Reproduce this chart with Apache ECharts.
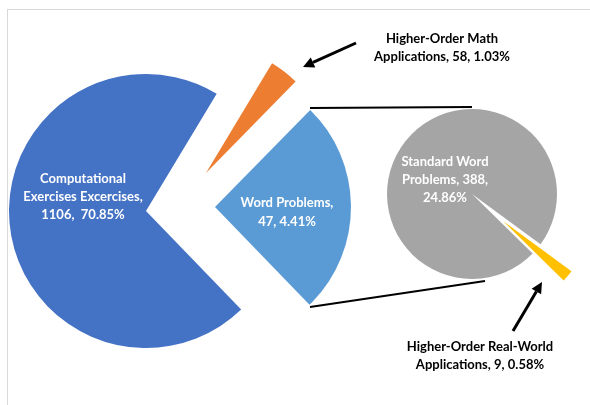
<!DOCTYPE html>
<html>
<head>
<meta charset="utf-8">
<script src="https://cdn.jsdelivr.net/npm/echarts@6/dist/echarts.min.js"></script>
<style>
  html, body { margin: 0; padding: 0; background: #fff; }
  #chart { width: 590px; height: 405px; }
</style>
</head>
<body>
<div id="chart"></div>
<script>
// main pie
const mainNames = ["Computational Exercises Excercises", "Higher-Order Math Applications", "Word Problems"];
const mainValues = [1106, 58, 397];
const mainLabels = ["Computational\nExercises Excercises,\n1106,  70.85%", "Higher-Order Math\nApplications, 58, 1.03%", "Word Problems,\n47, 4.41%"];
const mainColors = ["#4472c4", "#ed7d31", "#5b9bd5"];

// secondary pie (breakdown of word problems)
const subNames = ["Standard Word Problems", "Higher-Order Real-World Applications"];
const subValues = [388, 9];
const subLabels = ["Standard Word\nProblems, 388,\n24.86%", "Higher-Order Real-World\nApplications, 9, 0.58%"];
const subColors = ["#a5a5a5", "#ffc000"];

const FONT = "Lato, 'Open Sans', sans-serif";

// one visible slice per series so each slice can be pulled out on its own
function slicePie(names, values, colors, idx, center, radius, startAngle) {
  return {
    type: "pie",
    center: center,
    radius: radius,
    startAngle: startAngle,
    clockwise: true,
    silent: true,
    animation: false,
    avoidLabelOverlap: false,
    label: { show: false },
    labelLine: { show: false },
    itemStyle: { borderWidth: 0 },
    data: values.map((v, i) => ({
      name: names[i],
      value: v,
      itemStyle: { color: i === idx ? colors[i] : "rgba(0,0,0,0)" },
    })),
  };
}

function label(text, x, y, color, lh) {
  return {
    type: "text",
    silent: true,
    z: 100,
    style: {
      text: text, x: x, y: y,
      align: "center", verticalAlign: "middle",
      fontFamily: FONT, fontWeight: "bold", fontSize: 13,
      lineHeight: lh, fill: color,
    },
  };
}

function arrow(x1, y1, x2, y2) {
  const dx = x2 - x1, dy = y2 - y1;
  const len = Math.sqrt(dx * dx + dy * dy);
  const ux = dx / len, uy = dy / len;
  const hl = 11, hw = 5.5;
  const bx = x2 - ux * hl, by = y2 - uy * hl;
  return [
    { type: "line", silent: true, z: 100, shape: { x1: x1, y1: y1, x2: bx, y2: by }, style: { stroke: "#000", lineWidth: 3 } },
    {
      type: "polygon", silent: true, z: 100,
      shape: { points: [[x2, y2], [bx - uy * hw, by + ux * hw], [bx + uy * hw, by - ux * hw]] },
      style: { fill: "#000" },
    },
  ];
}

const chart = echarts.init(document.getElementById("chart"));
chart.setOption({
  backgroundColor: "#fff",
  animation: false,
  series: [
    slicePie(mainNames, mainValues, mainColors, 0, [146, 211], 137, 314),
    slicePie(mainNames, mainValues, mainColors, 1, [206, 173], 128, 314),
    slicePie(mainNames, mainValues, mainColors, 2, [215, 207], 136, 314),
    slicePie(subNames, subValues, subColors, 0, [472, 194], 85, 315.5),
    slicePie(subNames, subValues, subColors, 1, [503, 221], 85, 315.5),
  ],
  graphic: [
    // frame
    { type: "line", silent: true, shape: { x1: 7, y1: 9.5, x2: 590, y2: 9.5 }, style: { stroke: "#d9d9d9", lineWidth: 1 } },
    { type: "line", silent: true, shape: { x1: 7.5, y1: 9, x2: 7.5, y2: 405 }, style: { stroke: "#d9d9d9", lineWidth: 1 } },
    // connectors between the pies
    { type: "line", silent: true, shape: { x1: 310, y1: 108, x2: 472, y2: 107 }, style: { stroke: "#000", lineWidth: 1.8 } },
    { type: "line", silent: true, shape: { x1: 310, y1: 307, x2: 485, y2: 281 }, style: { stroke: "#000", lineWidth: 1.8 } },
    label(mainLabels[0], 83, 197, "#fff", 18),
    label(mainLabels[2], 287, 212, "#fff", 19),
    label(subLabels[0], 445, 180, "#fff", 18),
    label(mainLabels[1], 442, 48, "#000", 18),
    label(subLabels[1], 480, 356, "#000", 18),
  ].concat(arrow(356, 43, 303, 67), arrow(513, 331, 542, 282)),
});
</script>
</body>
</html>
